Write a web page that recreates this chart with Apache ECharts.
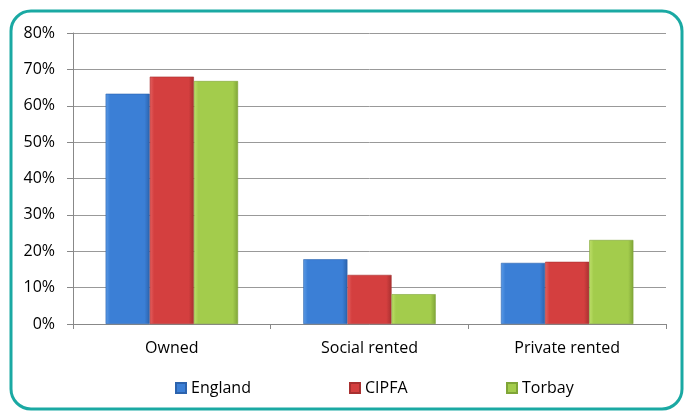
<!DOCTYPE html>
<html><head><meta charset="utf-8">
<script src="https://cdn.jsdelivr.net/npm/echarts@6/dist/echarts.min.js"></script>
<style>html,body{margin:0;padding:0;background:#fff}#c{width:684px;height:412px}</style>
</head><body><div id="c"></div>
<script>
const categories = ['Owned', 'Social rented', 'Private rented'];
const england = [0.633, 0.178, 0.168];
const cipfa = [0.68, 0.135, 0.171];
const torbay = [0.668, 0.082, 0.231];
const yTicks = [0, 0.1, 0.2, 0.3, 0.4, 0.5, 0.6, 0.7, 0.8];

function grad(light, mid, dark) {
  return new echarts.graphic.LinearGradient(0, 0, 1, 0, [
    {offset: 0, color: light}, {offset: 0.1, color: mid},
    {offset: 0.88, color: mid}, {offset: 1, color: dark}
  ]);
}
const colors = {
  England: ['#5b9be6', '#3b7fd6', '#2c63ad'],
  CIPFA: ['#e36060', '#d43f3f', '#a83030'],
  Torbay: ['#bfe06a', '#a3cc4c', '#7fa538']
};
function mk(name, data) {
  const c = colors[name];
  return {
    name, type: 'bar', data, barGap: '0%', barCategoryGap: '33%',
    itemStyle: {color: grad(c[0], c[1], c[2]), borderColor: c[2], borderWidth: 0.6},
    emphasis: {disabled: true}
  };
}
const chart = echarts.init(document.getElementById('c'), null, {renderer: 'canvas'});
const legendBase = {
  top: 380, itemWidth: 10, itemHeight: 10, icon: 'rect', padding: 0,
  textStyle: {fontFamily: 'Open Sans', fontSize: 16, color: '#000'}
};
const lbl = {fontFamily: 'Open Sans', fontSize: 16, color: '#000'};
chart.setOption({
  animation: false,
  backgroundColor: '#fff',
  color: [colors.England[1], colors.CIPFA[1], colors.Torbay[1]],
  graphic: [{
    type: 'rect', shape: {x: 11, y: 11, width: 671, height: 398, r: 20},
    style: {fill: 'none', stroke: '#1aa9a3', lineWidth: 3}, z: 10, silent: true
  }],
  grid: {left: 73, right: 18, top: 33, bottom: 88, containLabel: false},
  legend: [
    Object.assign({left: 175, data: ['England']}, legendBase),
    Object.assign({left: 349, data: ['CIPFA']}, legendBase),
    Object.assign({left: 506, data: ['Torbay']}, legendBase)
  ],
  xAxis: {
    type: 'category', data: categories,
    axisLine: {lineStyle: {color: '#888', width: 1}},
    axisTick: {show: true, length: 5, lineStyle: {color: '#888'}},
    axisLabel: Object.assign({margin: 16}, lbl)
  },
  yAxis: {
    type: 'value', min: 0, max: 0.8, interval: 0.1,
    axisLine: {show: true, lineStyle: {color: '#888'}},
    axisTick: {show: true, length: 6, lineStyle: {color: '#888'}},
    splitLine: {lineStyle: {color: '#999', width: 1}},
    axisLabel: Object.assign({
      margin: 18,
      formatter: v => {
        const t = yTicks.find(x => Math.abs(x - v) < 1e-6);
        return Math.round((t !== undefined ? t : v) * 100) + '%';
      }
    }, lbl)
  },
  series: [mk('England', england), mk('CIPFA', cipfa), mk('Torbay', torbay)]
});
</script></body></html>
